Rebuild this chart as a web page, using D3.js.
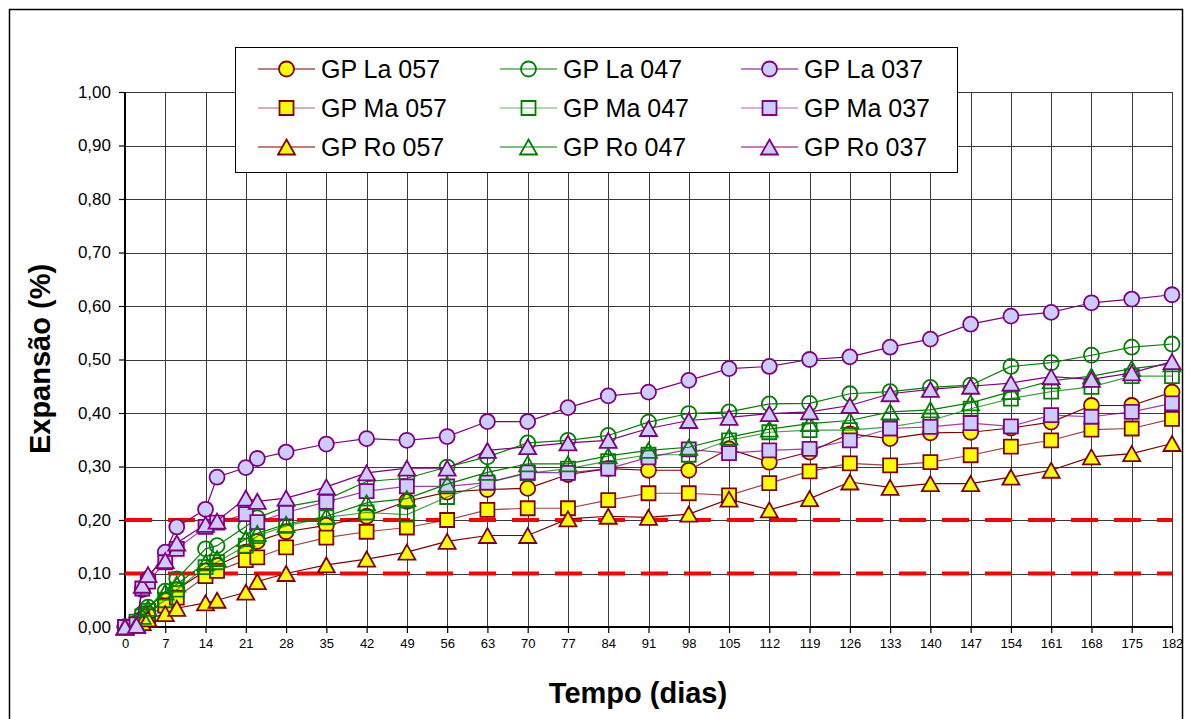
<!DOCTYPE html>
<html><head><meta charset="utf-8">
<script src="https://cdn.jsdelivr.net/npm/d3@7"></script>
<style>
body{margin:0;background:#fff}
svg{display:block}
text{font-family:"Liberation Sans",Arial,sans-serif}
</style>
</head><body>
<svg id="chart" width="1185" height="719"></svg>
<script>
// ---------- DATA ----------
const days = [0,2,3,4,7,9,14,16,21,23,28,35,42,49,56,63,70,77,84,91,98,105,112,119,126,133,140,147,154,161,168,175,182];

const la057 = [0,0.005,0.015,0.025,0.050,0.070,0.105,0.115,0.140,0.160,0.178,0.190,0.207,0.235,0.252,0.257,0.259,0.285,0.296,0.293,0.293,0.333,0.308,0.327,0.361,0.352,0.363,0.364,0.372,0.383,0.414,0.414,0.439];
const la047 = [0,0.008,0.025,0.037,0.067,0.090,0.146,0.152,0.188,0.204,0.225,0.238,0.272,0.278,0.299,0.318,0.344,0.349,0.358,0.383,0.399,0.402,0.417,0.418,0.436,0.440,0.448,0.452,0.487,0.494,0.508,0.523,0.529];
const la037 = [0,0.005,0.070,0.090,0.140,0.187,0.220,0.280,0.298,0.315,0.327,0.342,0.352,0.349,0.356,0.384,0.384,0.410,0.432,0.439,0.461,0.483,0.487,0.500,0.505,0.523,0.538,0.566,0.581,0.588,0.606,0.613,0.621];
const ma057 = [0,0.005,0.012,0.020,0.040,0.055,0.095,0.105,0.125,0.130,0.149,0.167,0.178,0.186,0.200,0.219,0.222,0.222,0.237,0.250,0.250,0.246,0.269,0.291,0.306,0.302,0.308,0.321,0.337,0.349,0.369,0.371,0.389];
const ma047 = [0,0.010,0.020,0.030,0.050,0.070,0.112,0.121,0.152,0.170,0.189,0.205,0.214,0.210,0.243,0.270,0.287,0.296,0.310,0.322,0.322,0.349,0.364,0.368,0.368,0.374,0.386,0.408,0.427,0.440,0.449,0.469,0.469];
const ma037 = [0,0.005,0.072,0.085,0.121,0.146,0.187,0.195,0.211,0.196,0.214,0.234,0.254,0.263,0.263,0.270,0.289,0.288,0.296,0.317,0.332,0.325,0.330,0.333,0.349,0.371,0.374,0.381,0.375,0.396,0.393,0.402,0.418];
const ro057 = [0,0.003,0.008,0.015,0.025,0.035,0.045,0.050,0.065,0.085,0.100,0.116,0.127,0.140,0.160,0.171,0.171,0.202,0.207,0.205,0.211,0.239,0.219,0.240,0.271,0.261,0.268,0.268,0.280,0.293,0.318,0.324,0.343];
const ro047 = [0,0.005,0.020,0.035,0.065,0.080,0.120,0.128,0.165,0.175,0.192,0.207,0.232,0.240,0.267,0.289,0.305,0.305,0.320,0.330,0.336,0.355,0.370,0.380,0.386,0.402,0.406,0.419,0.440,0.460,0.469,0.483,0.492];
const ro037 = [0,0.003,0.078,0.098,0.124,0.157,0.192,0.198,0.241,0.235,0.241,0.262,0.288,0.297,0.297,0.330,0.337,0.344,0.349,0.371,0.386,0.392,0.399,0.402,0.414,0.436,0.444,0.450,0.456,0.468,0.463,0.475,0.496];

const seriesNames = ["GP La 057","GP La 047","GP La 037","GP Ma 057","GP Ma 047","GP Ma 037","GP Ro 057","GP Ro 047","GP Ro 037"];
const seriesValues = [la057,la047,la037,ma057,ma047,ma037,ro057,ro047,ro037];
const seriesShapes = ["circle","circle","circle","square","square","square","triangle","triangle","triangle"];
const seriesGroups = ["057","047","037","057","047","037","057","047","037"];

const xTicks = [0,7,14,21,28,35,42,49,56,63,70,77,84,91,98,105,112,119,126,133,140,147,154,161,168,175,182];
const yTicks = [0,0.1,0.2,0.3,0.4,0.5,0.6,0.7,0.8,0.9,1.0];
const limitLines = [0.10,0.20];

const xTitle = "Tempo (dias)";
const yTitle = "Expansão (%)";

// ---------- STYLE ----------
const groupStyle = {
  "057": {line:"#800000", fill:"#FFFF00", stroke:"#800000"},
  "047": {line:"#008000", fill:"none",    stroke:"#008000"},
  "037": {line:"#800080", fill:"#CCCCFF", stroke:"#800080"}
};

const W = 1185, H = 719;
const plot = {left:125, right:1172, top:92, bottom:627};

const svg = d3.select("#chart");
svg.append("rect").attr("width",W).attr("height",H).attr("fill","#fff");

// outer chart border
svg.append("rect").attr("x",9.5).attr("y",9.5).attr("width",1173).attr("height",730)
  .attr("fill","none").attr("stroke","#000").attr("stroke-width",1.5);

const x = d3.scaleLinear().domain([0,182]).range([plot.left,plot.right]);
const y = d3.scaleLinear().domain([0,1]).range([plot.bottom,plot.top]);

// gridlines
const grid = svg.append("g");
grid.selectAll("line.h").data(yTicks).join("line")
  .attr("x1",plot.left).attr("x2",plot.right)
  .attr("y1",d=>Math.round(y(d))+0.5).attr("y2",d=>Math.round(y(d))+0.5)
  .attr("stroke","#3a3a3a").attr("stroke-width",1);
grid.selectAll("line.v").data(xTicks).join("line")
  .attr("y1",plot.top).attr("y2",plot.bottom)
  .attr("x1",d=>Math.round(x(d))+0.5).attr("x2",d=>Math.round(x(d))+0.5)
  .attr("stroke","#3a3a3a").attr("stroke-width",1);

// axes
const yAxis = d3.axisLeft(y).tickValues(yTicks).tickSize(6).tickPadding(8)
  .tickFormat(d=>d.toFixed(2).replace(".",","));
const gy = svg.append("g").attr("transform",`translate(${plot.left},0)`).call(yAxis);
gy.select(".domain").remove();
gy.selectAll(".tick line").attr("stroke","#000").attr("stroke-width",1.2);
gy.selectAll(".tick text").attr("font-size",17).attr("fill","#000")
  .style("font-family","'Liberation Sans',Arial,sans-serif");

const xAxis = d3.axisBottom(x).tickValues(xTicks).tickSize(6).tickPadding(6).tickFormat(d=>String(d));
const gx = svg.append("g").attr("transform",`translate(0,${plot.bottom})`).call(xAxis);
gx.select(".domain").remove();
gx.selectAll(".tick line").attr("stroke","#000").attr("stroke-width",1.2);
gx.selectAll(".tick text").attr("font-size",13).attr("fill","#000")
  .style("font-family","'Liberation Sans',Arial,sans-serif");

svg.append("line").attr("x1",plot.left).attr("x2",plot.left).attr("y1",plot.top).attr("y2",plot.bottom+1)
  .attr("stroke","#000").attr("stroke-width",2);
svg.append("line").attr("x1",plot.left).attr("x2",plot.right+1).attr("y1",plot.bottom).attr("y2",plot.bottom)
  .attr("stroke","#000").attr("stroke-width",2);

// limit lines
svg.append("g").selectAll("line").data(limitLines).join("line")
  .attr("x1",x(0)).attr("x2",x(182)).attr("y1",d=>y(d)).attr("y2",d=>y(d))
  .attr("stroke","#FF0000").attr("stroke-width",4).attr("stroke-dasharray","27,16");

// marker path generator
function markerPath(shape){
  if(shape==="circle"){ const r=7.5; return `M${-r},0A${r},${r},0,1,0,${r},0A${r},${r},0,1,0,${-r},0Z`; }
  if(shape==="square"){ const s=7; return `M${-s},${-s}H${s}V${s}H${-s}Z`; }
  const w=8.5, h=7.5; return `M0,${-h}L${w},${h}L${-w},${h}Z`;
}

// series
const line = d3.line().x(d=>x(d[0])).y(d=>y(d[1]));
seriesNames.forEach((name,i)=>{
  const st = groupStyle[seriesGroups[i]];
  const pts = days.map((d,k)=>[d,seriesValues[i][k]]);
  const g = svg.append("g");
  const isMa = name.includes("Ma");
  g.append("path").datum(pts).attr("d",line).attr("fill","none")
    .attr("stroke",st.line).attr("stroke-width",1.2).attr("stroke-opacity",isMa?0.75:1);
  g.selectAll("path.m").data(pts).join("path").attr("class","m")
    .attr("transform",d=>`translate(${x(d[0])},${y(d[1])})`)
    .attr("d",markerPath(seriesShapes[i]))
    .attr("fill",st.fill).attr("stroke",st.stroke).attr("stroke-width",1.8);
});

// legend
const leg = svg.append("g");
leg.append("rect").attr("x",235.5).attr("y",47.5).attr("width",722).attr("height",125)
  .attr("fill","#fff").attr("stroke","#000").attr("stroke-width",1);
const colX = [258,500,741];
const rowY = [69,108,147];
seriesNames.forEach((name,i)=>{
  const st = groupStyle[seriesGroups[i]];
  const cx = colX[i%3], cy = rowY[Math.floor(i/3)];
  const isMa = name.includes("Ma");
  leg.append("line").attr("x1",cx).attr("x2",cx+57).attr("y1",cy).attr("y2",cy)
    .attr("stroke",st.line).attr("stroke-width",1.2).attr("stroke-opacity",isMa?0.6:1);
  leg.append("path").attr("transform",`translate(${cx+28.5},${cy})`).attr("d",markerPath(seriesShapes[i]))
    .attr("fill",st.fill).attr("stroke",st.stroke).attr("stroke-width",1.8);
  leg.append("text").attr("x",cx+63).attr("y",cy).attr("dy","0.36em")
    .attr("font-size",25).attr("fill","#000").text(name);
});

// titles
svg.append("text").attr("x",638).attr("y",703).attr("text-anchor","middle")
  .attr("font-size",29).attr("font-weight","bold").text(xTitle);
svg.append("text").attr("transform","translate(50,359) rotate(-90)").attr("text-anchor","middle")
  .attr("font-size",29).attr("font-weight","bold").text(yTitle);
</script>
</body></html>
